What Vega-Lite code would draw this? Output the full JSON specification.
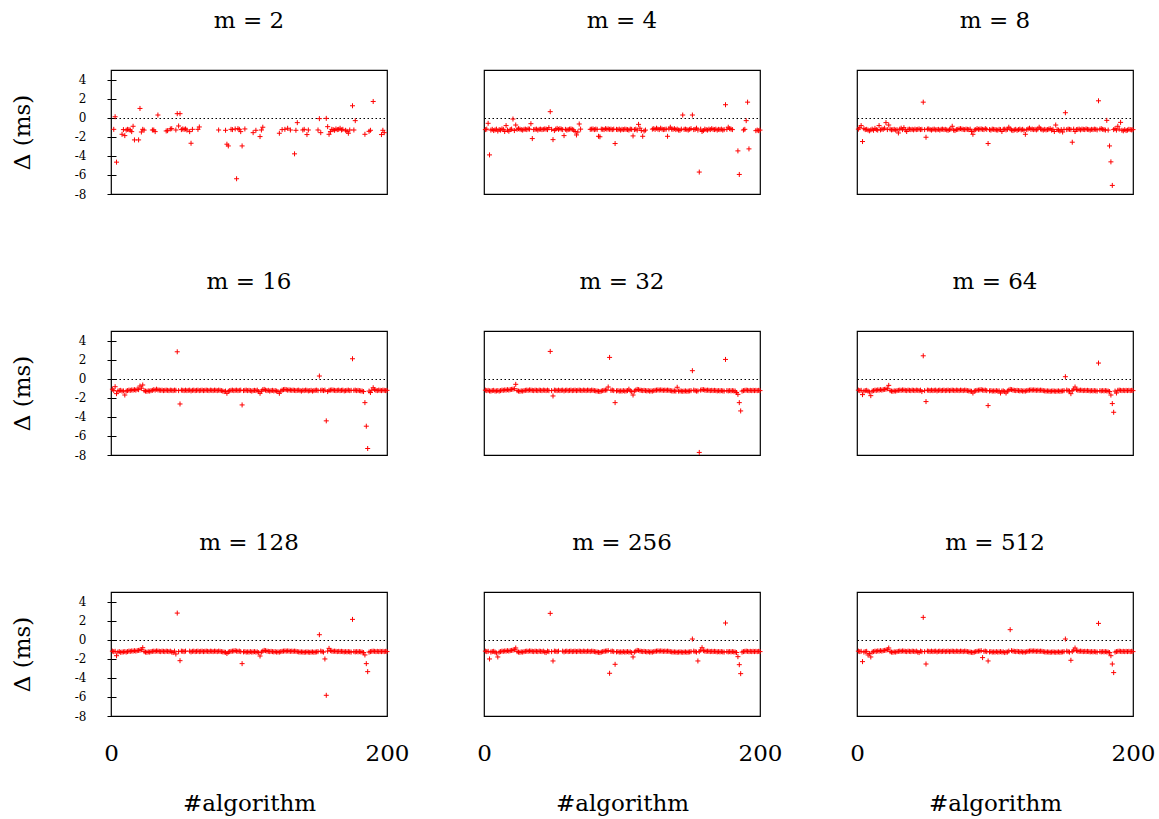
{
"$schema": "https://vega.github.io/schema/vega-lite/v6.json",
"background": "white",
"padding": {"left": 11, "top": 9, "right": 5, "bottom": 5},
"datasets": {"panels": [{"m":2,"t":"m = 2"},{"m":4,"t":"m = 4"},{"m":8,"t":"m = 8"},{"m":16,"t":"m = 16"},{"m":32,"t":"m = 32"},{"m":64,"t":"m = 64"},{"m":128,"t":"m = 128"},{"m":256,"t":"m = 256"},{"m":512,"t":"m = 512"}],
"pts": [
{"m":2,"x":2,"y":-1.22},{"m":2,"x":3,"y":0.1},{"m":2,"x":4,"y":-4.66},{"m":2,"x":8,"y":-1.74},{"m":2,"x":9,"y":-1.25},{"m":2,"x":10,"y":-1.88},{"m":2,"x":11,"y":-1.3},{"m":2,"x":12,"y":-1.22},{"m":2,"x":13,"y":-1.25},{"m":2,"x":14,"y":-1.3},{"m":2,"x":15,"y":-1.46},{"m":2,"x":16,"y":-0.9},{"m":2,"x":17,"y":-2.33},{"m":2,"x":20,"y":-2.33},{"m":2,"x":21,"y":0.97},{"m":2,"x":22,"y":-1.5},{"m":2,"x":23,"y":-1.22},{"m":2,"x":24,"y":-1.3},{"m":2,"x":30,"y":-1.29},{"m":2,"x":31,"y":-1.29},{"m":2,"x":32,"y":-1.46},{"m":2,"x":34,"y":0.28},{"m":2,"x":40,"y":-1.39},{"m":2,"x":41,"y":-1.36},{"m":2,"x":43,"y":-1.18},{"m":2,"x":44,"y":-1.15},{"m":2,"x":47,"y":-1.29},{"m":2,"x":48,"y":0.42},{"m":2,"x":49,"y":-0.87},{"m":2,"x":50,"y":0.42},{"m":2,"x":51,"y":-1.25},{"m":2,"x":52,"y":-1.18},{"m":2,"x":53,"y":-1.22},{"m":2,"x":54,"y":-1.18},{"m":2,"x":55,"y":-1.29},{"m":2,"x":57,"y":-1.46},{"m":2,"x":58,"y":-2.68},{"m":2,"x":59,"y":-1.22},{"m":2,"x":63,"y":-1.22},{"m":2,"x":64,"y":-0.97},{"m":2,"x":78,"y":-1.29},{"m":2,"x":83,"y":-1.32},{"m":2,"x":84,"y":-2.78},{"m":2,"x":85,"y":-2.96},{"m":2,"x":87,"y":-1.22},{"m":2,"x":88,"y":-1.25},{"m":2,"x":90,"y":-1.18},{"m":2,"x":91,"y":-6.4},{"m":2,"x":92,"y":-1.15},{"m":2,"x":93,"y":-1.22},{"m":2,"x":94,"y":-1.46},{"m":2,"x":95,"y":-2.96},{"m":2,"x":97,"y":-1.18},{"m":2,"x":103,"y":-1.57},{"m":2,"x":105,"y":-1.32},{"m":2,"x":108,"y":-1.98},{"m":2,"x":109,"y":-1.29},{"m":2,"x":110,"y":-1.0},{"m":2,"x":122,"y":-1.63},{"m":2,"x":124,"y":-1.25},{"m":2,"x":126,"y":-1.22},{"m":2,"x":128,"y":-1.11},{"m":2,"x":130,"y":-1.29},{"m":2,"x":133,"y":-3.79},{"m":2,"x":134,"y":-1.32},{"m":2,"x":135,"y":-0.52},{"m":2,"x":139,"y":-1.29},{"m":2,"x":140,"y":-1.22},{"m":2,"x":142,"y":-1.77},{"m":2,"x":143,"y":-1.29},{"m":2,"x":150,"y":-1.29},{"m":2,"x":151,"y":-0.1},{"m":2,"x":152,"y":-1.57},{"m":2,"x":156,"y":-0.07},{"m":2,"x":157,"y":-0.94},{"m":2,"x":158,"y":-1.74},{"m":2,"x":159,"y":-1.46},{"m":2,"x":160,"y":-1.22},{"m":2,"x":161,"y":-1.25},{"m":2,"x":162,"y":-1.32},{"m":2,"x":163,"y":-1.18},{"m":2,"x":164,"y":-1.25},{"m":2,"x":165,"y":-1.22},{"m":2,"x":166,"y":-1.11},{"m":2,"x":167,"y":-1.29},{"m":2,"x":168,"y":-1.22},{"m":2,"x":170,"y":-1.32},{"m":2,"x":171,"y":-1.43},{"m":2,"x":172,"y":-1.63},{"m":2,"x":173,"y":-1.29},{"m":2,"x":175,"y":1.25},{"m":2,"x":176,"y":-1.29},{"m":2,"x":177,"y":-0.31},{"m":2,"x":184,"y":-1.74},{"m":2,"x":187,"y":-1.43},{"m":2,"x":188,"y":-1.32},{"m":2,"x":190,"y":1.7},{"m":2,"x":196,"y":-1.77},{"m":2,"x":197,"y":-1.32},{"m":2,"x":198,"y":-1.57},
{"m":4,"x":1,"y":-1.25},{"m":4,"x":2,"y":-1.2},{"m":4,"x":3,"y":-0.59},{"m":4,"x":4,"y":-3.9},{"m":4,"x":5,"y":-1.3},{"m":4,"x":6,"y":-1.22},{"m":4,"x":7,"y":-1.35},{"m":4,"x":8,"y":-1.28},{"m":4,"x":9,"y":-1.2},{"m":4,"x":10,"y":-1.4},{"m":4,"x":11,"y":-1.25},{"m":4,"x":12,"y":-1.3},{"m":4,"x":13,"y":-1.18},{"m":4,"x":14,"y":-1.22},{"m":4,"x":15,"y":-1.45},{"m":4,"x":16,"y":-0.83},{"m":4,"x":17,"y":-1.3},{"m":4,"x":18,"y":-1.42},{"m":4,"x":19,"y":-1.25},{"m":4,"x":20,"y":-1.2},{"m":4,"x":21,"y":-0.14},{"m":4,"x":22,"y":-1.35},{"m":4,"x":23,"y":-0.77},{"m":4,"x":24,"y":-1.22},{"m":4,"x":25,"y":-1.15},{"m":4,"x":26,"y":-1.2},{"m":4,"x":27,"y":-1.25},{"m":4,"x":28,"y":-1.3},{"m":4,"x":29,"y":-1.22},{"m":4,"x":30,"y":-1.2},{"m":4,"x":31,"y":-1.25},{"m":4,"x":32,"y":-1.18},{"m":4,"x":33,"y":-1.2},{"m":4,"x":34,"y":-0.63},{"m":4,"x":35,"y":-2.19},{"m":4,"x":36,"y":-1.25},{"m":4,"x":37,"y":-1.22},{"m":4,"x":38,"y":-1.2},{"m":4,"x":39,"y":-1.3},{"m":4,"x":40,"y":-1.22},{"m":4,"x":41,"y":-1.2},{"m":4,"x":42,"y":-1.25},{"m":4,"x":43,"y":-1.22},{"m":4,"x":44,"y":-1.18},{"m":4,"x":45,"y":-1.2},{"m":4,"x":46,"y":-1.25},{"m":4,"x":47,"y":-1.05},{"m":4,"x":48,"y":0.63},{"m":4,"x":49,"y":-1.22},{"m":4,"x":50,"y":-2.3},{"m":4,"x":51,"y":-1.35},{"m":4,"x":52,"y":-1.2},{"m":4,"x":53,"y":-1.12},{"m":4,"x":54,"y":-1.22},{"m":4,"x":55,"y":-1.15},{"m":4,"x":56,"y":-1.2},{"m":4,"x":57,"y":-1.25},{"m":4,"x":58,"y":-1.88},{"m":4,"x":59,"y":-1.22},{"m":4,"x":60,"y":-1.3},{"m":4,"x":61,"y":-1.25},{"m":4,"x":62,"y":-1.2},{"m":4,"x":63,"y":-1.18},{"m":4,"x":64,"y":-1.22},{"m":4,"x":65,"y":-1.3},{"m":4,"x":66,"y":-1.45},{"m":4,"x":67,"y":-1.81},{"m":4,"x":68,"y":-1.5},{"m":4,"x":69,"y":-0.66},{"m":4,"x":70,"y":-1.2},{"m":4,"x":77,"y":-1.22},{"m":4,"x":78,"y":-1.2},{"m":4,"x":79,"y":-1.18},{"m":4,"x":80,"y":-1.25},{"m":4,"x":81,"y":-1.2},{"m":4,"x":82,"y":-1.22},{"m":4,"x":83,"y":-1.95},{"m":4,"x":84,"y":-2.0},{"m":4,"x":85,"y":-1.2},{"m":4,"x":86,"y":-1.22},{"m":4,"x":87,"y":-1.25},{"m":4,"x":88,"y":-1.15},{"m":4,"x":89,"y":-1.2},{"m":4,"x":90,"y":-1.18},{"m":4,"x":91,"y":-1.22},{"m":4,"x":92,"y":-1.2},{"m":4,"x":93,"y":-1.25},{"m":4,"x":94,"y":-1.2},{"m":4,"x":95,"y":-2.71},{"m":4,"x":96,"y":-1.22},{"m":4,"x":97,"y":-1.25},{"m":4,"x":98,"y":-1.2},{"m":4,"x":99,"y":-1.3},{"m":4,"x":100,"y":-1.22},{"m":4,"x":101,"y":-1.25},{"m":4,"x":102,"y":-1.2},{"m":4,"x":103,"y":-1.22},{"m":4,"x":104,"y":-1.25},{"m":4,"x":105,"y":-1.3},{"m":4,"x":106,"y":-1.2},{"m":4,"x":107,"y":-1.22},{"m":4,"x":108,"y":-1.91},{"m":4,"x":109,"y":-1.25},{"m":4,"x":110,"y":-1.2},{"m":4,"x":111,"y":-1.3},{"m":4,"x":112,"y":-0.7},{"m":4,"x":113,"y":-1.1},{"m":4,"x":114,"y":-1.35},{"m":4,"x":115,"y":-1.95},{"m":4,"x":116,"y":-1.4},{"m":4,"x":117,"y":-1.3},{"m":4,"x":122,"y":-1.2},{"m":4,"x":123,"y":-1.15},{"m":4,"x":124,"y":-1.22},{"m":4,"x":125,"y":-1.1},{"m":4,"x":126,"y":-1.2},{"m":4,"x":127,"y":-1.25},{"m":4,"x":128,"y":-1.1},{"m":4,"x":129,"y":-1.2},{"m":4,"x":130,"y":-1.25},{"m":4,"x":131,"y":-1.22},{"m":4,"x":132,"y":-1.2},{"m":4,"x":133,"y":-1.95},{"m":4,"x":134,"y":-1.18},{"m":4,"x":135,"y":-1.0},{"m":4,"x":136,"y":-1.2},{"m":4,"x":137,"y":-1.22},{"m":4,"x":138,"y":-1.15},{"m":4,"x":139,"y":-1.25},{"m":4,"x":140,"y":-1.2},{"m":4,"x":141,"y":-1.3},{"m":4,"x":142,"y":-1.32},{"m":4,"x":143,"y":-1.2},{"m":4,"x":144,"y":0.28},{"m":4,"x":145,"y":-1.22},{"m":4,"x":146,"y":-1.2},{"m":4,"x":147,"y":-1.25},{"m":4,"x":148,"y":-1.3},{"m":4,"x":149,"y":-1.22},{"m":4,"x":150,"y":-1.15},{"m":4,"x":151,"y":0.28},{"m":4,"x":152,"y":-1.25},{"m":4,"x":153,"y":-1.22},{"m":4,"x":154,"y":-1.1},{"m":4,"x":155,"y":-1.3},{"m":4,"x":156,"y":-5.7},{"m":4,"x":157,"y":-1.2},{"m":4,"x":158,"y":-1.45},{"m":4,"x":159,"y":-1.35},{"m":4,"x":160,"y":-1.2},{"m":4,"x":161,"y":-1.25},{"m":4,"x":162,"y":-1.3},{"m":4,"x":163,"y":-1.2},{"m":4,"x":164,"y":-1.25},{"m":4,"x":165,"y":-1.15},{"m":4,"x":166,"y":-1.22},{"m":4,"x":167,"y":-1.25},{"m":4,"x":168,"y":-1.2},{"m":4,"x":169,"y":-1.3},{"m":4,"x":170,"y":-1.22},{"m":4,"x":171,"y":-1.25},{"m":4,"x":172,"y":-1.2},{"m":4,"x":173,"y":-1.3},{"m":4,"x":174,"y":-1.25},{"m":4,"x":175,"y":1.36},{"m":4,"x":176,"y":-1.22},{"m":4,"x":177,"y":-1.0},{"m":4,"x":178,"y":-1.15},{"m":4,"x":179,"y":-1.2},{"m":4,"x":180,"y":-1.25},{"m":4,"x":184,"y":-3.48},{"m":4,"x":185,"y":-5.95},{"m":4,"x":188,"y":-1.29},{"m":4,"x":189,"y":-1.22},{"m":4,"x":190,"y":-0.31},{"m":4,"x":191,"y":1.63},{"m":4,"x":192,"y":-3.27},{"m":4,"x":197,"y":-1.36},{"m":4,"x":198,"y":-1.3},{"m":4,"x":199,"y":-1.36},{"m":4,"x":200,"y":-1.3},
{"m":8,"x":1,"y":-1.2},{"m":8,"x":2,"y":-1.05},{"m":8,"x":3,"y":-0.83},{"m":8,"x":4,"y":-2.5},{"m":8,"x":5,"y":-1.15},{"m":8,"x":6,"y":-1.25},{"m":8,"x":7,"y":-1.22},{"m":8,"x":8,"y":-1.3},{"m":8,"x":9,"y":-1.38},{"m":8,"x":10,"y":-1.28},{"m":8,"x":11,"y":-1.2},{"m":8,"x":12,"y":-1.32},{"m":8,"x":13,"y":-1.12},{"m":8,"x":14,"y":-1.25},{"m":8,"x":15,"y":-1.3},{"m":8,"x":16,"y":-0.83},{"m":8,"x":17,"y":-1.28},{"m":8,"x":18,"y":-1.2},{"m":8,"x":19,"y":-1.22},{"m":8,"x":20,"y":-1.1},{"m":8,"x":21,"y":-0.52},{"m":8,"x":22,"y":-1.25},{"m":8,"x":23,"y":-0.77},{"m":8,"x":24,"y":-1.2},{"m":8,"x":25,"y":-1.28},{"m":8,"x":26,"y":-1.25},{"m":8,"x":27,"y":-1.22},{"m":8,"x":28,"y":-1.3},{"m":8,"x":29,"y":-1.26},{"m":8,"x":30,"y":-1.6},{"m":8,"x":31,"y":-1.2},{"m":8,"x":32,"y":-1.1},{"m":8,"x":33,"y":-1.25},{"m":8,"x":34,"y":-1.05},{"m":8,"x":35,"y":-1.28},{"m":8,"x":36,"y":-1.45},{"m":8,"x":37,"y":-1.22},{"m":8,"x":38,"y":-1.2},{"m":8,"x":39,"y":-1.25},{"m":8,"x":40,"y":-1.22},{"m":8,"x":41,"y":-1.28},{"m":8,"x":42,"y":-1.2},{"m":8,"x":43,"y":-1.25},{"m":8,"x":44,"y":-1.22},{"m":8,"x":45,"y":-1.18},{"m":8,"x":46,"y":-1.25},{"m":8,"x":47,"y":-1.22},{"m":8,"x":48,"y":1.63},{"m":8,"x":49,"y":-1.25},{"m":8,"x":50,"y":-2.05},{"m":8,"x":51,"y":-1.2},{"m":8,"x":52,"y":-1.18},{"m":8,"x":53,"y":-1.25},{"m":8,"x":54,"y":-1.3},{"m":8,"x":55,"y":-1.22},{"m":8,"x":56,"y":-1.2},{"m":8,"x":57,"y":-1.28},{"m":8,"x":58,"y":-1.25},{"m":8,"x":59,"y":-1.22},{"m":8,"x":60,"y":-1.3},{"m":8,"x":61,"y":-1.22},{"m":8,"x":62,"y":-1.2},{"m":8,"x":63,"y":-1.25},{"m":8,"x":64,"y":-1.22},{"m":8,"x":65,"y":-1.28},{"m":8,"x":66,"y":-1.32},{"m":8,"x":67,"y":-1.25},{"m":8,"x":68,"y":-1.2},{"m":8,"x":69,"y":-0.9},{"m":8,"x":70,"y":-1.3},{"m":8,"x":71,"y":-1.35},{"m":8,"x":72,"y":-1.25},{"m":8,"x":73,"y":-1.22},{"m":8,"x":74,"y":-1.18},{"m":8,"x":75,"y":-1.15},{"m":8,"x":76,"y":-1.2},{"m":8,"x":77,"y":-1.22},{"m":8,"x":78,"y":-1.25},{"m":8,"x":79,"y":-1.2},{"m":8,"x":80,"y":-1.22},{"m":8,"x":81,"y":-1.25},{"m":8,"x":82,"y":-1.2},{"m":8,"x":83,"y":-1.45},{"m":8,"x":84,"y":-1.74},{"m":8,"x":85,"y":-1.3},{"m":8,"x":86,"y":-1.25},{"m":8,"x":87,"y":-1.15},{"m":8,"x":88,"y":-1.22},{"m":8,"x":89,"y":-1.2},{"m":8,"x":90,"y":-1.18},{"m":8,"x":91,"y":-1.22},{"m":8,"x":92,"y":-1.25},{"m":8,"x":93,"y":-1.15},{"m":8,"x":94,"y":-1.22},{"m":8,"x":95,"y":-2.71},{"m":8,"x":96,"y":-1.25},{"m":8,"x":97,"y":-1.3},{"m":8,"x":98,"y":-1.2},{"m":8,"x":99,"y":-1.22},{"m":8,"x":100,"y":-1.25},{"m":8,"x":101,"y":-1.28},{"m":8,"x":102,"y":-1.3},{"m":8,"x":103,"y":-1.22},{"m":8,"x":104,"y":-1.25},{"m":8,"x":105,"y":-1.45},{"m":8,"x":106,"y":-1.22},{"m":8,"x":107,"y":-1.2},{"m":8,"x":108,"y":-1.28},{"m":8,"x":109,"y":-1.22},{"m":8,"x":110,"y":-1.0},{"m":8,"x":111,"y":-1.18},{"m":8,"x":112,"y":-1.3},{"m":8,"x":113,"y":-1.35},{"m":8,"x":114,"y":-1.28},{"m":8,"x":115,"y":-1.22},{"m":8,"x":116,"y":-1.32},{"m":8,"x":117,"y":-1.25},{"m":8,"x":118,"y":-1.2},{"m":8,"x":119,"y":-1.28},{"m":8,"x":120,"y":-1.22},{"m":8,"x":121,"y":-1.32},{"m":8,"x":122,"y":-1.74},{"m":8,"x":123,"y":-1.25},{"m":8,"x":124,"y":-1.18},{"m":8,"x":125,"y":-1.1},{"m":8,"x":126,"y":-1.22},{"m":8,"x":127,"y":-1.2},{"m":8,"x":128,"y":-1.25},{"m":8,"x":129,"y":-1.22},{"m":8,"x":130,"y":-1.28},{"m":8,"x":131,"y":-1.2},{"m":8,"x":132,"y":-1.0},{"m":8,"x":133,"y":-1.18},{"m":8,"x":134,"y":-1.25},{"m":8,"x":135,"y":-1.3},{"m":8,"x":136,"y":-1.22},{"m":8,"x":137,"y":-1.28},{"m":8,"x":138,"y":-1.25},{"m":8,"x":139,"y":-1.2},{"m":8,"x":140,"y":-1.15},{"m":8,"x":141,"y":-1.3},{"m":8,"x":142,"y":-1.22},{"m":8,"x":143,"y":-1.45},{"m":8,"x":144,"y":-0.77},{"m":8,"x":145,"y":-1.25},{"m":8,"x":146,"y":-1.3},{"m":8,"x":147,"y":-1.4},{"m":8,"x":148,"y":-1.25},{"m":8,"x":149,"y":-1.5},{"m":8,"x":150,"y":-1.22},{"m":8,"x":151,"y":0.52},{"m":8,"x":152,"y":-1.25},{"m":8,"x":153,"y":-1.2},{"m":8,"x":154,"y":-1.22},{"m":8,"x":155,"y":-1.25},{"m":8,"x":156,"y":-2.57},{"m":8,"x":157,"y":-1.2},{"m":8,"x":158,"y":-1.45},{"m":8,"x":159,"y":-1.25},{"m":8,"x":160,"y":-1.22},{"m":8,"x":161,"y":-1.2},{"m":8,"x":162,"y":-1.28},{"m":8,"x":163,"y":-1.2},{"m":8,"x":164,"y":-1.22},{"m":8,"x":165,"y":-1.25},{"m":8,"x":166,"y":-1.18},{"m":8,"x":167,"y":-1.22},{"m":8,"x":168,"y":-1.25},{"m":8,"x":169,"y":-1.3},{"m":8,"x":170,"y":-1.22},{"m":8,"x":171,"y":-1.25},{"m":8,"x":172,"y":-1.2},{"m":8,"x":173,"y":-1.22},{"m":8,"x":174,"y":-1.28},{"m":8,"x":175,"y":1.77},{"m":8,"x":176,"y":-1.2},{"m":8,"x":177,"y":-1.15},{"m":8,"x":178,"y":-1.22},{"m":8,"x":179,"y":-1.25},{"m":8,"x":180,"y":-1.3},{"m":8,"x":181,"y":-0.28},{"m":8,"x":182,"y":-1.3},{"m":8,"x":183,"y":-2.96},{"m":8,"x":184,"y":-4.63},{"m":8,"x":185,"y":-7.1},{"m":8,"x":186,"y":-1.25},{"m":8,"x":187,"y":-1.15},{"m":8,"x":188,"y":-1.3},{"m":8,"x":189,"y":-0.9},{"m":8,"x":190,"y":-1.2},{"m":8,"x":191,"y":-0.49},{"m":8,"x":192,"y":-1.32},{"m":8,"x":193,"y":-1.38},{"m":8,"x":194,"y":-1.25},{"m":8,"x":195,"y":-1.35},{"m":8,"x":196,"y":-1.3},{"m":8,"x":197,"y":-1.22},{"m":8,"x":198,"y":-1.25},{"m":8,"x":199,"y":-1.28},{"m":8,"x":200,"y":-1.25},
{"m":16,"x":1,"y":-1.1},{"m":16,"x":2,"y":-1.25},{"m":16,"x":3,"y":-0.84},{"m":16,"x":4,"y":-1.57},{"m":16,"x":5,"y":-1.3},{"m":16,"x":6,"y":-1.25},{"m":16,"x":7,"y":-1.22},{"m":16,"x":8,"y":-1.3},{"m":16,"x":9,"y":-1.28},{"m":16,"x":10,"y":-1.71},{"m":16,"x":11,"y":-1.3},{"m":16,"x":12,"y":-1.25},{"m":16,"x":13,"y":-1.2},{"m":16,"x":14,"y":-1.22},{"m":16,"x":15,"y":-1.18},{"m":16,"x":16,"y":-1.2},{"m":16,"x":17,"y":-1.15},{"m":16,"x":18,"y":-1.2},{"m":16,"x":19,"y":-1.1},{"m":16,"x":20,"y":-1.15},{"m":16,"x":21,"y":-0.77},{"m":16,"x":22,"y":-1.0},{"m":16,"x":23,"y":-0.66},{"m":16,"x":24,"y":-1.25},{"m":16,"x":25,"y":-1.3},{"m":16,"x":26,"y":-1.32},{"m":16,"x":27,"y":-1.28},{"m":16,"x":28,"y":-1.3},{"m":16,"x":29,"y":-1.25},{"m":16,"x":30,"y":-1.22},{"m":16,"x":31,"y":-1.15},{"m":16,"x":32,"y":-1.2},{"m":16,"x":33,"y":-1.1},{"m":16,"x":34,"y":-1.18},{"m":16,"x":35,"y":-1.2},{"m":16,"x":36,"y":-1.22},{"m":16,"x":37,"y":-1.2},{"m":16,"x":38,"y":-1.25},{"m":16,"x":39,"y":-1.22},{"m":16,"x":40,"y":-1.2},{"m":16,"x":41,"y":-1.22},{"m":16,"x":42,"y":-1.25},{"m":16,"x":43,"y":-1.2},{"m":16,"x":44,"y":-1.22},{"m":16,"x":45,"y":-1.25},{"m":16,"x":46,"y":-1.2},{"m":16,"x":47,"y":-1.22},{"m":16,"x":48,"y":2.82},{"m":16,"x":49,"y":-1.25},{"m":16,"x":50,"y":-2.65},{"m":16,"x":51,"y":-1.2},{"m":16,"x":52,"y":-1.22},{"m":16,"x":53,"y":-1.25},{"m":16,"x":54,"y":-1.2},{"m":16,"x":55,"y":-1.25},{"m":16,"x":56,"y":-1.22},{"m":16,"x":57,"y":-1.2},{"m":16,"x":58,"y":-1.28},{"m":16,"x":59,"y":-1.22},{"m":16,"x":60,"y":-1.2},{"m":16,"x":61,"y":-1.25},{"m":16,"x":62,"y":-1.22},{"m":16,"x":63,"y":-1.2},{"m":16,"x":64,"y":-1.25},{"m":16,"x":65,"y":-1.22},{"m":16,"x":66,"y":-1.2},{"m":16,"x":67,"y":-1.25},{"m":16,"x":68,"y":-1.22},{"m":16,"x":69,"y":-1.2},{"m":16,"x":70,"y":-1.22},{"m":16,"x":71,"y":-1.25},{"m":16,"x":72,"y":-1.2},{"m":16,"x":73,"y":-1.22},{"m":16,"x":74,"y":-1.25},{"m":16,"x":75,"y":-1.2},{"m":16,"x":76,"y":-1.22},{"m":16,"x":77,"y":-1.25},{"m":16,"x":78,"y":-1.2},{"m":16,"x":79,"y":-1.22},{"m":16,"x":80,"y":-1.25},{"m":16,"x":81,"y":-1.3},{"m":16,"x":82,"y":-1.35},{"m":16,"x":83,"y":-1.3},{"m":16,"x":84,"y":-1.53},{"m":16,"x":85,"y":-1.32},{"m":16,"x":86,"y":-1.25},{"m":16,"x":87,"y":-1.22},{"m":16,"x":88,"y":-1.2},{"m":16,"x":89,"y":-1.25},{"m":16,"x":90,"y":-1.22},{"m":16,"x":91,"y":-1.2},{"m":16,"x":92,"y":-1.25},{"m":16,"x":93,"y":-1.22},{"m":16,"x":94,"y":-1.2},{"m":16,"x":95,"y":-2.75},{"m":16,"x":96,"y":-1.25},{"m":16,"x":97,"y":-1.22},{"m":16,"x":98,"y":-1.2},{"m":16,"x":99,"y":-1.25},{"m":16,"x":100,"y":-1.22},{"m":16,"x":101,"y":-1.25},{"m":16,"x":102,"y":-1.3},{"m":16,"x":103,"y":-1.25},{"m":16,"x":104,"y":-1.22},{"m":16,"x":105,"y":-1.25},{"m":16,"x":106,"y":-1.2},{"m":16,"x":107,"y":-1.35},{"m":16,"x":108,"y":-1.53},{"m":16,"x":109,"y":-1.3},{"m":16,"x":110,"y":-1.15},{"m":16,"x":111,"y":-1.12},{"m":16,"x":112,"y":-1.2},{"m":16,"x":113,"y":-1.25},{"m":16,"x":114,"y":-1.22},{"m":16,"x":115,"y":-1.3},{"m":16,"x":116,"y":-1.25},{"m":16,"x":117,"y":-1.22},{"m":16,"x":118,"y":-1.28},{"m":16,"x":119,"y":-1.25},{"m":16,"x":120,"y":-1.3},{"m":16,"x":121,"y":-1.35},{"m":16,"x":122,"y":-1.53},{"m":16,"x":123,"y":-1.3},{"m":16,"x":124,"y":-1.2},{"m":16,"x":125,"y":-1.15},{"m":16,"x":126,"y":-1.12},{"m":16,"x":127,"y":-1.15},{"m":16,"x":128,"y":-1.2},{"m":16,"x":129,"y":-1.18},{"m":16,"x":130,"y":-1.2},{"m":16,"x":131,"y":-1.22},{"m":16,"x":132,"y":-1.2},{"m":16,"x":133,"y":-1.22},{"m":16,"x":134,"y":-1.25},{"m":16,"x":135,"y":-1.22},{"m":16,"x":136,"y":-1.2},{"m":16,"x":137,"y":-1.25},{"m":16,"x":138,"y":-1.3},{"m":16,"x":139,"y":-1.22},{"m":16,"x":140,"y":-1.25},{"m":16,"x":141,"y":-1.2},{"m":16,"x":142,"y":-1.22},{"m":16,"x":143,"y":-1.28},{"m":16,"x":144,"y":-1.25},{"m":16,"x":145,"y":-1.22},{"m":16,"x":146,"y":-1.3},{"m":16,"x":147,"y":-1.25},{"m":16,"x":148,"y":-1.22},{"m":16,"x":149,"y":-1.2},{"m":16,"x":150,"y":-1.25},{"m":16,"x":151,"y":0.28},{"m":16,"x":152,"y":-1.22},{"m":16,"x":153,"y":-1.2},{"m":16,"x":154,"y":-1.25},{"m":16,"x":155,"y":-1.2},{"m":16,"x":156,"y":-4.42},{"m":16,"x":157,"y":-1.35},{"m":16,"x":158,"y":-1.22},{"m":16,"x":159,"y":-1.2},{"m":16,"x":160,"y":-1.18},{"m":16,"x":161,"y":-1.2},{"m":16,"x":162,"y":-1.22},{"m":16,"x":163,"y":-1.25},{"m":16,"x":164,"y":-1.22},{"m":16,"x":165,"y":-1.2},{"m":16,"x":166,"y":-1.25},{"m":16,"x":167,"y":-1.22},{"m":16,"x":168,"y":-1.2},{"m":16,"x":169,"y":-1.28},{"m":16,"x":170,"y":-1.25},{"m":16,"x":171,"y":-1.22},{"m":16,"x":172,"y":-1.2},{"m":16,"x":173,"y":-1.25},{"m":16,"x":174,"y":-1.22},{"m":16,"x":175,"y":2.09},{"m":16,"x":176,"y":-1.22},{"m":16,"x":177,"y":-1.2},{"m":16,"x":178,"y":-1.25},{"m":16,"x":179,"y":-1.22},{"m":16,"x":180,"y":-1.25},{"m":16,"x":181,"y":-1.28},{"m":16,"x":182,"y":-1.3},{"m":16,"x":183,"y":-1.35},{"m":16,"x":184,"y":-2.51},{"m":16,"x":185,"y":-4.98},{"m":16,"x":186,"y":-7.32},{"m":16,"x":187,"y":-1.3},{"m":16,"x":188,"y":-1.45},{"m":16,"x":189,"y":-1.2},{"m":16,"x":190,"y":-0.95},{"m":16,"x":191,"y":-1.15},{"m":16,"x":192,"y":-1.22},{"m":16,"x":193,"y":-1.25},{"m":16,"x":194,"y":-1.2},{"m":16,"x":195,"y":-1.22},{"m":16,"x":196,"y":-1.25},{"m":16,"x":197,"y":-1.2},{"m":16,"x":198,"y":-1.22},{"m":16,"x":199,"y":-1.25},{"m":16,"x":200,"y":-1.22},
{"m":32,"x":1,"y":-1.2},{"m":32,"x":2,"y":-1.25},{"m":32,"x":3,"y":-1.22},{"m":32,"x":4,"y":-1.28},{"m":32,"x":5,"y":-1.3},{"m":32,"x":6,"y":-1.25},{"m":32,"x":7,"y":-1.22},{"m":32,"x":8,"y":-1.3},{"m":32,"x":9,"y":-1.28},{"m":32,"x":10,"y":-1.25},{"m":32,"x":11,"y":-1.3},{"m":32,"x":12,"y":-1.25},{"m":32,"x":13,"y":-1.2},{"m":32,"x":14,"y":-1.22},{"m":32,"x":15,"y":-1.18},{"m":32,"x":16,"y":-1.2},{"m":32,"x":17,"y":-1.15},{"m":32,"x":18,"y":-1.2},{"m":32,"x":19,"y":-1.15},{"m":32,"x":20,"y":-1.12},{"m":32,"x":21,"y":-1.1},{"m":32,"x":22,"y":-1.05},{"m":32,"x":23,"y":-0.59},{"m":32,"x":24,"y":-1.25},{"m":32,"x":25,"y":-1.3},{"m":32,"x":26,"y":-1.32},{"m":32,"x":27,"y":-1.28},{"m":32,"x":28,"y":-1.3},{"m":32,"x":29,"y":-1.25},{"m":32,"x":30,"y":-1.22},{"m":32,"x":31,"y":-1.2},{"m":32,"x":32,"y":-1.22},{"m":32,"x":33,"y":-1.18},{"m":32,"x":34,"y":-1.2},{"m":32,"x":35,"y":-1.22},{"m":32,"x":36,"y":-1.25},{"m":32,"x":37,"y":-1.2},{"m":32,"x":38,"y":-1.22},{"m":32,"x":39,"y":-1.25},{"m":32,"x":40,"y":-1.2},{"m":32,"x":41,"y":-1.22},{"m":32,"x":42,"y":-1.25},{"m":32,"x":43,"y":-1.2},{"m":32,"x":44,"y":-1.22},{"m":32,"x":45,"y":-1.25},{"m":32,"x":46,"y":-1.2},{"m":32,"x":47,"y":-1.25},{"m":32,"x":48,"y":2.86},{"m":32,"x":49,"y":-1.25},{"m":32,"x":50,"y":-1.81},{"m":32,"x":51,"y":-1.2},{"m":32,"x":52,"y":-1.22},{"m":32,"x":53,"y":-1.25},{"m":32,"x":54,"y":-1.2},{"m":32,"x":55,"y":-1.25},{"m":32,"x":56,"y":-1.22},{"m":32,"x":57,"y":-1.2},{"m":32,"x":58,"y":-1.28},{"m":32,"x":59,"y":-1.22},{"m":32,"x":60,"y":-1.2},{"m":32,"x":61,"y":-1.25},{"m":32,"x":62,"y":-1.22},{"m":32,"x":63,"y":-1.2},{"m":32,"x":64,"y":-1.25},{"m":32,"x":65,"y":-1.22},{"m":32,"x":66,"y":-1.2},{"m":32,"x":67,"y":-1.25},{"m":32,"x":68,"y":-1.22},{"m":32,"x":69,"y":-1.2},{"m":32,"x":70,"y":-1.22},{"m":32,"x":71,"y":-1.25},{"m":32,"x":72,"y":-1.2},{"m":32,"x":73,"y":-1.22},{"m":32,"x":74,"y":-1.25},{"m":32,"x":75,"y":-1.2},{"m":32,"x":76,"y":-1.22},{"m":32,"x":77,"y":-1.25},{"m":32,"x":78,"y":-1.2},{"m":32,"x":79,"y":-1.22},{"m":32,"x":80,"y":-1.25},{"m":32,"x":81,"y":-1.28},{"m":32,"x":82,"y":-1.3},{"m":32,"x":83,"y":-1.32},{"m":32,"x":84,"y":-1.35},{"m":32,"x":85,"y":-1.3},{"m":32,"x":86,"y":-1.25},{"m":32,"x":87,"y":-1.22},{"m":32,"x":88,"y":-1.2},{"m":32,"x":89,"y":-1.18},{"m":32,"x":90,"y":-0.87},{"m":32,"x":91,"y":2.23},{"m":32,"x":92,"y":-1.22},{"m":32,"x":93,"y":-1.2},{"m":32,"x":94,"y":-1.25},{"m":32,"x":95,"y":-2.51},{"m":32,"x":96,"y":-1.28},{"m":32,"x":97,"y":-1.25},{"m":32,"x":98,"y":-1.3},{"m":32,"x":99,"y":-1.28},{"m":32,"x":100,"y":-1.3},{"m":32,"x":101,"y":-1.25},{"m":32,"x":102,"y":-1.3},{"m":32,"x":103,"y":-1.28},{"m":32,"x":104,"y":-1.25},{"m":32,"x":105,"y":-1.1},{"m":32,"x":106,"y":-1.28},{"m":32,"x":107,"y":-1.35},{"m":32,"x":108,"y":-1.71},{"m":32,"x":109,"y":-1.3},{"m":32,"x":110,"y":-1.2},{"m":32,"x":111,"y":-1.12},{"m":32,"x":112,"y":-1.15},{"m":32,"x":113,"y":-1.2},{"m":32,"x":114,"y":-1.22},{"m":32,"x":115,"y":-1.25},{"m":32,"x":116,"y":-1.22},{"m":32,"x":117,"y":-1.25},{"m":32,"x":118,"y":-1.28},{"m":32,"x":119,"y":-1.25},{"m":32,"x":120,"y":-1.3},{"m":32,"x":121,"y":-1.28},{"m":32,"x":122,"y":-1.3},{"m":32,"x":123,"y":-1.25},{"m":32,"x":124,"y":-1.22},{"m":32,"x":125,"y":-1.2},{"m":32,"x":126,"y":-1.18},{"m":32,"x":127,"y":-1.2},{"m":32,"x":128,"y":-1.18},{"m":32,"x":129,"y":-1.2},{"m":32,"x":130,"y":-1.22},{"m":32,"x":131,"y":-1.2},{"m":32,"x":132,"y":-1.22},{"m":32,"x":133,"y":-1.2},{"m":32,"x":134,"y":-1.22},{"m":32,"x":135,"y":-1.25},{"m":32,"x":136,"y":-1.28},{"m":32,"x":137,"y":-1.3},{"m":32,"x":138,"y":-1.28},{"m":32,"x":139,"y":-1.3},{"m":32,"x":140,"y":-0.9},{"m":32,"x":141,"y":-1.3},{"m":32,"x":142,"y":-1.28},{"m":32,"x":143,"y":-1.3},{"m":32,"x":144,"y":-1.32},{"m":32,"x":145,"y":-1.3},{"m":32,"x":146,"y":-1.28},{"m":32,"x":147,"y":-1.32},{"m":32,"x":148,"y":-1.3},{"m":32,"x":149,"y":-1.28},{"m":32,"x":150,"y":-1.25},{"m":32,"x":151,"y":0.84},{"m":32,"x":152,"y":-1.2},{"m":32,"x":153,"y":-1.25},{"m":32,"x":154,"y":-1.3},{"m":32,"x":155,"y":-1.28},{"m":32,"x":156,"y":-7.73},{"m":32,"x":157,"y":-1.2},{"m":32,"x":158,"y":-1.15},{"m":32,"x":159,"y":-1.15},{"m":32,"x":160,"y":-1.2},{"m":32,"x":161,"y":-1.22},{"m":32,"x":162,"y":-1.2},{"m":32,"x":163,"y":-1.22},{"m":32,"x":164,"y":-1.25},{"m":32,"x":165,"y":-1.22},{"m":32,"x":166,"y":-1.25},{"m":32,"x":167,"y":-1.22},{"m":32,"x":168,"y":-1.25},{"m":32,"x":169,"y":-1.28},{"m":32,"x":170,"y":-1.25},{"m":32,"x":171,"y":-1.28},{"m":32,"x":172,"y":-1.25},{"m":32,"x":173,"y":-1.28},{"m":32,"x":174,"y":-1.3},{"m":32,"x":175,"y":2.02},{"m":32,"x":176,"y":-1.25},{"m":32,"x":177,"y":-1.28},{"m":32,"x":178,"y":-1.25},{"m":32,"x":179,"y":-1.28},{"m":32,"x":180,"y":-1.25},{"m":32,"x":181,"y":-1.28},{"m":32,"x":182,"y":-1.3},{"m":32,"x":183,"y":-1.45},{"m":32,"x":184,"y":-1.64},{"m":32,"x":185,"y":-2.51},{"m":32,"x":186,"y":-3.38},{"m":32,"x":187,"y":-1.3},{"m":32,"x":188,"y":-1.25},{"m":32,"x":189,"y":-1.22},{"m":32,"x":190,"y":-1.2},{"m":32,"x":191,"y":-1.22},{"m":32,"x":192,"y":-1.25},{"m":32,"x":193,"y":-1.22},{"m":32,"x":194,"y":-1.25},{"m":32,"x":195,"y":-1.22},{"m":32,"x":196,"y":-1.25},{"m":32,"x":197,"y":-1.22},{"m":32,"x":198,"y":-1.25},{"m":32,"x":199,"y":-1.22},{"m":32,"x":200,"y":-1.25},
{"m":64,"x":1,"y":-1.2},{"m":64,"x":2,"y":-1.25},{"m":64,"x":3,"y":-1.22},{"m":64,"x":4,"y":-1.67},{"m":64,"x":5,"y":-1.3},{"m":64,"x":6,"y":-1.25},{"m":64,"x":7,"y":-1.22},{"m":64,"x":8,"y":-1.3},{"m":64,"x":9,"y":-1.4},{"m":64,"x":10,"y":-1.78},{"m":64,"x":11,"y":-1.3},{"m":64,"x":12,"y":-1.25},{"m":64,"x":13,"y":-1.2},{"m":64,"x":14,"y":-1.22},{"m":64,"x":15,"y":-1.18},{"m":64,"x":16,"y":-1.2},{"m":64,"x":17,"y":-1.15},{"m":64,"x":18,"y":-1.2},{"m":64,"x":19,"y":-1.15},{"m":64,"x":20,"y":-1.12},{"m":64,"x":21,"y":-1.1},{"m":64,"x":22,"y":-1.05},{"m":64,"x":23,"y":-0.7},{"m":64,"x":24,"y":-1.25},{"m":64,"x":25,"y":-1.3},{"m":64,"x":26,"y":-1.32},{"m":64,"x":27,"y":-1.28},{"m":64,"x":28,"y":-1.3},{"m":64,"x":29,"y":-1.25},{"m":64,"x":30,"y":-1.22},{"m":64,"x":31,"y":-1.2},{"m":64,"x":32,"y":-1.22},{"m":64,"x":33,"y":-1.18},{"m":64,"x":34,"y":-1.2},{"m":64,"x":35,"y":-1.22},{"m":64,"x":36,"y":-1.25},{"m":64,"x":37,"y":-1.2},{"m":64,"x":38,"y":-1.22},{"m":64,"x":39,"y":-1.25},{"m":64,"x":40,"y":-1.2},{"m":64,"x":41,"y":-1.22},{"m":64,"x":42,"y":-1.25},{"m":64,"x":43,"y":-1.2},{"m":64,"x":44,"y":-1.22},{"m":64,"x":45,"y":-1.25},{"m":64,"x":46,"y":-1.2},{"m":64,"x":47,"y":-1.35},{"m":64,"x":48,"y":2.4},{"m":64,"x":49,"y":-1.25},{"m":64,"x":50,"y":-2.4},{"m":64,"x":51,"y":-1.2},{"m":64,"x":52,"y":-1.22},{"m":64,"x":53,"y":-1.25},{"m":64,"x":54,"y":-1.2},{"m":64,"x":55,"y":-1.25},{"m":64,"x":56,"y":-1.22},{"m":64,"x":57,"y":-1.2},{"m":64,"x":58,"y":-1.28},{"m":64,"x":59,"y":-1.22},{"m":64,"x":60,"y":-1.2},{"m":64,"x":61,"y":-1.25},{"m":64,"x":62,"y":-1.22},{"m":64,"x":63,"y":-1.2},{"m":64,"x":64,"y":-1.25},{"m":64,"x":65,"y":-1.22},{"m":64,"x":66,"y":-1.2},{"m":64,"x":67,"y":-1.25},{"m":64,"x":68,"y":-1.22},{"m":64,"x":69,"y":-1.2},{"m":64,"x":70,"y":-1.22},{"m":64,"x":71,"y":-1.25},{"m":64,"x":72,"y":-1.2},{"m":64,"x":73,"y":-1.22},{"m":64,"x":74,"y":-1.25},{"m":64,"x":75,"y":-1.2},{"m":64,"x":76,"y":-1.22},{"m":64,"x":77,"y":-1.25},{"m":64,"x":78,"y":-1.2},{"m":64,"x":79,"y":-1.22},{"m":64,"x":80,"y":-1.25},{"m":64,"x":81,"y":-1.28},{"m":64,"x":82,"y":-1.3},{"m":64,"x":83,"y":-1.32},{"m":64,"x":84,"y":-1.5},{"m":64,"x":85,"y":-1.3},{"m":64,"x":86,"y":-1.25},{"m":64,"x":87,"y":-1.22},{"m":64,"x":88,"y":-1.2},{"m":64,"x":89,"y":-1.18},{"m":64,"x":90,"y":-1.15},{"m":64,"x":91,"y":-1.2},{"m":64,"x":92,"y":-1.22},{"m":64,"x":93,"y":-1.2},{"m":64,"x":94,"y":-1.25},{"m":64,"x":95,"y":-2.82},{"m":64,"x":96,"y":-1.28},{"m":64,"x":97,"y":-1.25},{"m":64,"x":98,"y":-1.3},{"m":64,"x":99,"y":-1.28},{"m":64,"x":100,"y":-1.3},{"m":64,"x":101,"y":-1.25},{"m":64,"x":102,"y":-1.3},{"m":64,"x":103,"y":-1.28},{"m":64,"x":104,"y":-1.5},{"m":64,"x":105,"y":-1.3},{"m":64,"x":106,"y":-1.28},{"m":64,"x":107,"y":-1.35},{"m":64,"x":108,"y":-1.5},{"m":64,"x":109,"y":-1.3},{"m":64,"x":110,"y":-1.2},{"m":64,"x":111,"y":-1.12},{"m":64,"x":112,"y":-1.15},{"m":64,"x":113,"y":-1.2},{"m":64,"x":114,"y":-1.22},{"m":64,"x":115,"y":-1.25},{"m":64,"x":116,"y":-1.22},{"m":64,"x":117,"y":-1.25},{"m":64,"x":118,"y":-1.28},{"m":64,"x":119,"y":-1.25},{"m":64,"x":120,"y":-1.3},{"m":64,"x":121,"y":-1.28},{"m":64,"x":122,"y":-1.3},{"m":64,"x":123,"y":-1.25},{"m":64,"x":124,"y":-1.22},{"m":64,"x":125,"y":-1.2},{"m":64,"x":126,"y":-1.18},{"m":64,"x":127,"y":-1.2},{"m":64,"x":128,"y":-1.18},{"m":64,"x":129,"y":-1.2},{"m":64,"x":130,"y":-1.22},{"m":64,"x":131,"y":-1.2},{"m":64,"x":132,"y":-1.22},{"m":64,"x":133,"y":-1.2},{"m":64,"x":134,"y":-1.22},{"m":64,"x":135,"y":-1.25},{"m":64,"x":136,"y":-1.28},{"m":64,"x":137,"y":-1.3},{"m":64,"x":138,"y":-1.28},{"m":64,"x":139,"y":-1.3},{"m":64,"x":140,"y":-1.32},{"m":64,"x":141,"y":-1.3},{"m":64,"x":142,"y":-1.28},{"m":64,"x":143,"y":-1.3},{"m":64,"x":144,"y":-1.32},{"m":64,"x":145,"y":-1.3},{"m":64,"x":146,"y":-1.28},{"m":64,"x":147,"y":-1.32},{"m":64,"x":148,"y":-1.3},{"m":64,"x":149,"y":-1.28},{"m":64,"x":150,"y":-1.25},{"m":64,"x":151,"y":0.21},{"m":64,"x":152,"y":-1.2},{"m":64,"x":153,"y":-1.25},{"m":64,"x":154,"y":-1.3},{"m":64,"x":155,"y":-1.57},{"m":64,"x":156,"y":-1.25},{"m":64,"x":157,"y":-1.1},{"m":64,"x":158,"y":-0.87},{"m":64,"x":159,"y":-1.15},{"m":64,"x":160,"y":-1.2},{"m":64,"x":161,"y":-1.22},{"m":64,"x":162,"y":-1.2},{"m":64,"x":163,"y":-1.22},{"m":64,"x":164,"y":-1.25},{"m":64,"x":165,"y":-1.22},{"m":64,"x":166,"y":-1.25},{"m":64,"x":167,"y":-1.22},{"m":64,"x":168,"y":-1.25},{"m":64,"x":169,"y":-1.28},{"m":64,"x":170,"y":-1.25},{"m":64,"x":171,"y":-1.28},{"m":64,"x":172,"y":-1.25},{"m":64,"x":173,"y":-1.28},{"m":64,"x":174,"y":-1.3},{"m":64,"x":175,"y":1.64},{"m":64,"x":176,"y":-1.25},{"m":64,"x":177,"y":-1.28},{"m":64,"x":178,"y":-1.25},{"m":64,"x":179,"y":-1.28},{"m":64,"x":180,"y":-1.25},{"m":64,"x":181,"y":-1.28},{"m":64,"x":182,"y":-1.3},{"m":64,"x":183,"y":-1.35},{"m":64,"x":184,"y":-1.71},{"m":64,"x":185,"y":-2.61},{"m":64,"x":186,"y":-3.52},{"m":64,"x":187,"y":-1.3},{"m":64,"x":188,"y":-1.5},{"m":64,"x":189,"y":-1.22},{"m":64,"x":190,"y":-1.2},{"m":64,"x":191,"y":-1.22},{"m":64,"x":192,"y":-1.25},{"m":64,"x":193,"y":-1.22},{"m":64,"x":194,"y":-1.25},{"m":64,"x":195,"y":-1.22},{"m":64,"x":196,"y":-1.25},{"m":64,"x":197,"y":-1.22},{"m":64,"x":198,"y":-1.25},{"m":64,"x":199,"y":-1.22},{"m":64,"x":200,"y":-1.25},
{"m":128,"x":1,"y":-1.2},{"m":128,"x":2,"y":-1.25},{"m":128,"x":3,"y":-1.22},{"m":128,"x":4,"y":-1.68},{"m":128,"x":5,"y":-1.3},{"m":128,"x":6,"y":-1.25},{"m":128,"x":7,"y":-1.32},{"m":128,"x":8,"y":-1.3},{"m":128,"x":9,"y":-1.28},{"m":128,"x":10,"y":-1.25},{"m":128,"x":11,"y":-1.3},{"m":128,"x":12,"y":-1.25},{"m":128,"x":13,"y":-1.2},{"m":128,"x":14,"y":-1.22},{"m":128,"x":15,"y":-1.18},{"m":128,"x":16,"y":-1.2},{"m":128,"x":17,"y":-1.15},{"m":128,"x":18,"y":-1.2},{"m":128,"x":19,"y":-1.15},{"m":128,"x":20,"y":-1.12},{"m":128,"x":21,"y":-1.1},{"m":128,"x":22,"y":-1.05},{"m":128,"x":23,"y":-0.84},{"m":128,"x":24,"y":-1.25},{"m":128,"x":25,"y":-1.3},{"m":128,"x":26,"y":-1.32},{"m":128,"x":27,"y":-1.28},{"m":128,"x":28,"y":-1.3},{"m":128,"x":29,"y":-1.25},{"m":128,"x":30,"y":-1.22},{"m":128,"x":31,"y":-1.2},{"m":128,"x":32,"y":-1.22},{"m":128,"x":33,"y":-1.18},{"m":128,"x":34,"y":-1.2},{"m":128,"x":35,"y":-1.22},{"m":128,"x":36,"y":-1.25},{"m":128,"x":37,"y":-1.2},{"m":128,"x":38,"y":-1.22},{"m":128,"x":39,"y":-1.25},{"m":128,"x":40,"y":-1.2},{"m":128,"x":41,"y":-1.22},{"m":128,"x":42,"y":-1.25},{"m":128,"x":43,"y":-1.2},{"m":128,"x":44,"y":-1.3},{"m":128,"x":45,"y":-1.35},{"m":128,"x":46,"y":-1.2},{"m":128,"x":47,"y":-1.5},{"m":128,"x":48,"y":2.79},{"m":128,"x":49,"y":-1.25},{"m":128,"x":50,"y":-2.2},{"m":128,"x":51,"y":-1.2},{"m":128,"x":52,"y":-1.22},{"m":128,"x":53,"y":-1.25},{"m":128,"x":54,"y":-1.2},{"m":128,"x":57,"y":-1.2},{"m":128,"x":58,"y":-1.28},{"m":128,"x":59,"y":-1.22},{"m":128,"x":60,"y":-1.2},{"m":128,"x":61,"y":-1.25},{"m":128,"x":62,"y":-1.22},{"m":128,"x":63,"y":-1.2},{"m":128,"x":64,"y":-1.25},{"m":128,"x":65,"y":-1.22},{"m":128,"x":66,"y":-1.2},{"m":128,"x":67,"y":-1.25},{"m":128,"x":68,"y":-1.22},{"m":128,"x":69,"y":-1.2},{"m":128,"x":70,"y":-1.22},{"m":128,"x":71,"y":-1.25},{"m":128,"x":72,"y":-1.2},{"m":128,"x":73,"y":-1.22},{"m":128,"x":74,"y":-1.25},{"m":128,"x":75,"y":-1.2},{"m":128,"x":76,"y":-1.22},{"m":128,"x":77,"y":-1.25},{"m":128,"x":78,"y":-1.2},{"m":128,"x":79,"y":-1.22},{"m":128,"x":80,"y":-1.25},{"m":128,"x":81,"y":-1.28},{"m":128,"x":82,"y":-1.3},{"m":128,"x":83,"y":-1.32},{"m":128,"x":84,"y":-1.45},{"m":128,"x":85,"y":-1.3},{"m":128,"x":86,"y":-1.25},{"m":128,"x":87,"y":-1.22},{"m":128,"x":88,"y":-1.2},{"m":128,"x":89,"y":-1.18},{"m":128,"x":90,"y":-1.15},{"m":128,"x":91,"y":-1.2},{"m":128,"x":92,"y":-1.22},{"m":128,"x":93,"y":-1.2},{"m":128,"x":94,"y":-1.25},{"m":128,"x":95,"y":-2.51},{"m":128,"x":96,"y":-1.28},{"m":128,"x":97,"y":-1.25},{"m":128,"x":98,"y":-1.3},{"m":128,"x":99,"y":-1.28},{"m":128,"x":100,"y":-1.3},{"m":128,"x":101,"y":-1.25},{"m":128,"x":102,"y":-1.3},{"m":128,"x":103,"y":-1.28},{"m":128,"x":104,"y":-1.25},{"m":128,"x":105,"y":-1.3},{"m":128,"x":106,"y":-1.28},{"m":128,"x":107,"y":-1.35},{"m":128,"x":108,"y":-1.71},{"m":128,"x":109,"y":-1.3},{"m":128,"x":110,"y":-1.2},{"m":128,"x":111,"y":-1.12},{"m":128,"x":112,"y":-1.15},{"m":128,"x":113,"y":-1.2},{"m":128,"x":114,"y":-1.22},{"m":128,"x":115,"y":-1.25},{"m":128,"x":116,"y":-1.22},{"m":128,"x":117,"y":-1.25},{"m":128,"x":118,"y":-1.28},{"m":128,"x":119,"y":-1.25},{"m":128,"x":120,"y":-1.3},{"m":128,"x":121,"y":-1.28},{"m":128,"x":122,"y":-1.3},{"m":128,"x":123,"y":-1.25},{"m":128,"x":124,"y":-1.22},{"m":128,"x":125,"y":-1.2},{"m":128,"x":126,"y":-1.18},{"m":128,"x":127,"y":-1.2},{"m":128,"x":128,"y":-1.18},{"m":128,"x":129,"y":-1.2},{"m":128,"x":130,"y":-1.22},{"m":128,"x":131,"y":-1.2},{"m":128,"x":132,"y":-1.22},{"m":128,"x":133,"y":-1.2},{"m":128,"x":134,"y":-1.22},{"m":128,"x":135,"y":-1.25},{"m":128,"x":136,"y":-1.28},{"m":128,"x":137,"y":-1.3},{"m":128,"x":138,"y":-1.28},{"m":128,"x":139,"y":-1.3},{"m":128,"x":140,"y":-1.32},{"m":128,"x":141,"y":-1.3},{"m":128,"x":142,"y":-1.28},{"m":128,"x":143,"y":-1.3},{"m":128,"x":144,"y":-1.32},{"m":128,"x":145,"y":-1.3},{"m":128,"x":146,"y":-1.28},{"m":128,"x":147,"y":-1.32},{"m":128,"x":148,"y":-1.3},{"m":128,"x":149,"y":-1.28},{"m":128,"x":150,"y":-1.25},{"m":128,"x":151,"y":0.52},{"m":128,"x":152,"y":-1.2},{"m":128,"x":153,"y":-1.25},{"m":128,"x":154,"y":-1.3},{"m":128,"x":155,"y":-2.02},{"m":128,"x":156,"y":-5.83},{"m":128,"x":157,"y":-1.2},{"m":128,"x":158,"y":-0.91},{"m":128,"x":159,"y":-1.15},{"m":128,"x":160,"y":-1.2},{"m":128,"x":161,"y":-1.22},{"m":128,"x":162,"y":-1.2},{"m":128,"x":163,"y":-1.22},{"m":128,"x":164,"y":-1.25},{"m":128,"x":165,"y":-1.22},{"m":128,"x":166,"y":-1.25},{"m":128,"x":167,"y":-1.22},{"m":128,"x":168,"y":-1.25},{"m":128,"x":169,"y":-1.28},{"m":128,"x":170,"y":-1.25},{"m":128,"x":171,"y":-1.28},{"m":128,"x":172,"y":-1.25},{"m":128,"x":173,"y":-1.28},{"m":128,"x":174,"y":-1.3},{"m":128,"x":175,"y":2.13},{"m":128,"x":176,"y":-1.25},{"m":128,"x":177,"y":-1.28},{"m":128,"x":178,"y":-1.25},{"m":128,"x":179,"y":-1.28},{"m":128,"x":180,"y":-1.25},{"m":128,"x":181,"y":-1.28},{"m":128,"x":182,"y":-1.3},{"m":128,"x":183,"y":-1.35},{"m":128,"x":184,"y":-1.6},{"m":128,"x":185,"y":-2.51},{"m":128,"x":186,"y":-3.35},{"m":128,"x":187,"y":-1.3},{"m":128,"x":188,"y":-1.25},{"m":128,"x":189,"y":-1.22},{"m":128,"x":190,"y":-1.2},{"m":128,"x":191,"y":-1.22},{"m":128,"x":192,"y":-1.25},{"m":128,"x":193,"y":-1.22},{"m":128,"x":194,"y":-1.25},{"m":128,"x":195,"y":-1.22},{"m":128,"x":196,"y":-1.25},{"m":128,"x":197,"y":-1.22},{"m":128,"x":198,"y":-1.25},{"m":128,"x":199,"y":-1.22},{"m":128,"x":200,"y":-1.25},
{"m":256,"x":1,"y":-1.2},{"m":256,"x":2,"y":-1.25},{"m":256,"x":3,"y":-1.22},{"m":256,"x":4,"y":-2.02},{"m":256,"x":5,"y":-1.3},{"m":256,"x":6,"y":-1.25},{"m":256,"x":7,"y":-1.22},{"m":256,"x":8,"y":-1.3},{"m":256,"x":9,"y":-1.4},{"m":256,"x":10,"y":-1.81},{"m":256,"x":11,"y":-1.3},{"m":256,"x":12,"y":-1.25},{"m":256,"x":13,"y":-1.2},{"m":256,"x":14,"y":-1.22},{"m":256,"x":15,"y":-1.18},{"m":256,"x":16,"y":-1.2},{"m":256,"x":17,"y":-1.15},{"m":256,"x":18,"y":-1.2},{"m":256,"x":19,"y":-1.15},{"m":256,"x":20,"y":-1.12},{"m":256,"x":21,"y":-1.1},{"m":256,"x":22,"y":-1.05},{"m":256,"x":23,"y":-0.87},{"m":256,"x":24,"y":-1.25},{"m":256,"x":25,"y":-1.3},{"m":256,"x":26,"y":-1.32},{"m":256,"x":27,"y":-1.28},{"m":256,"x":28,"y":-1.3},{"m":256,"x":29,"y":-1.25},{"m":256,"x":30,"y":-1.22},{"m":256,"x":31,"y":-1.2},{"m":256,"x":32,"y":-1.22},{"m":256,"x":33,"y":-1.18},{"m":256,"x":34,"y":-1.2},{"m":256,"x":35,"y":-1.22},{"m":256,"x":36,"y":-1.25},{"m":256,"x":37,"y":-1.2},{"m":256,"x":38,"y":-1.22},{"m":256,"x":39,"y":-1.25},{"m":256,"x":40,"y":-1.2},{"m":256,"x":41,"y":-1.22},{"m":256,"x":42,"y":-1.25},{"m":256,"x":43,"y":-1.2},{"m":256,"x":44,"y":-1.3},{"m":256,"x":45,"y":-1.35},{"m":256,"x":46,"y":-1.2},{"m":256,"x":47,"y":-1.25},{"m":256,"x":48,"y":2.76},{"m":256,"x":49,"y":-1.25},{"m":256,"x":50,"y":-2.23},{"m":256,"x":51,"y":-1.2},{"m":256,"x":52,"y":-1.22},{"m":256,"x":53,"y":-1.25},{"m":256,"x":54,"y":-1.2},{"m":256,"x":57,"y":-1.2},{"m":256,"x":58,"y":-1.28},{"m":256,"x":59,"y":-1.22},{"m":256,"x":60,"y":-1.2},{"m":256,"x":61,"y":-1.25},{"m":256,"x":62,"y":-1.22},{"m":256,"x":63,"y":-1.2},{"m":256,"x":64,"y":-1.25},{"m":256,"x":65,"y":-1.22},{"m":256,"x":66,"y":-1.2},{"m":256,"x":67,"y":-1.25},{"m":256,"x":68,"y":-1.22},{"m":256,"x":69,"y":-1.2},{"m":256,"x":70,"y":-1.22},{"m":256,"x":71,"y":-1.25},{"m":256,"x":72,"y":-1.2},{"m":256,"x":73,"y":-1.22},{"m":256,"x":74,"y":-1.25},{"m":256,"x":75,"y":-1.2},{"m":256,"x":76,"y":-1.22},{"m":256,"x":77,"y":-1.25},{"m":256,"x":78,"y":-1.2},{"m":256,"x":79,"y":-1.22},{"m":256,"x":80,"y":-1.25},{"m":256,"x":81,"y":-1.28},{"m":256,"x":82,"y":-1.3},{"m":256,"x":83,"y":-1.32},{"m":256,"x":84,"y":-1.35},{"m":256,"x":85,"y":-1.3},{"m":256,"x":86,"y":-1.25},{"m":256,"x":87,"y":-1.22},{"m":256,"x":88,"y":-1.2},{"m":256,"x":89,"y":-1.18},{"m":256,"x":90,"y":-1.15},{"m":256,"x":91,"y":-3.52},{"m":256,"x":92,"y":-1.22},{"m":256,"x":93,"y":-1.2},{"m":256,"x":94,"y":-1.25},{"m":256,"x":95,"y":-2.58},{"m":256,"x":96,"y":-1.28},{"m":256,"x":97,"y":-1.25},{"m":256,"x":98,"y":-1.3},{"m":256,"x":99,"y":-1.28},{"m":256,"x":100,"y":-1.3},{"m":256,"x":101,"y":-1.25},{"m":256,"x":102,"y":-1.3},{"m":256,"x":103,"y":-1.28},{"m":256,"x":104,"y":-1.25},{"m":256,"x":105,"y":-1.3},{"m":256,"x":106,"y":-1.28},{"m":256,"x":107,"y":-1.35},{"m":256,"x":108,"y":-1.81},{"m":256,"x":109,"y":-1.3},{"m":256,"x":110,"y":-1.2},{"m":256,"x":111,"y":-1.12},{"m":256,"x":112,"y":-1.15},{"m":256,"x":113,"y":-1.2},{"m":256,"x":114,"y":-1.22},{"m":256,"x":115,"y":-1.25},{"m":256,"x":116,"y":-1.22},{"m":256,"x":117,"y":-1.25},{"m":256,"x":118,"y":-1.28},{"m":256,"x":119,"y":-1.25},{"m":256,"x":120,"y":-1.3},{"m":256,"x":121,"y":-1.28},{"m":256,"x":122,"y":-1.3},{"m":256,"x":123,"y":-1.25},{"m":256,"x":124,"y":-1.22},{"m":256,"x":125,"y":-1.2},{"m":256,"x":126,"y":-1.18},{"m":256,"x":127,"y":-1.2},{"m":256,"x":128,"y":-1.18},{"m":256,"x":129,"y":-1.2},{"m":256,"x":130,"y":-1.22},{"m":256,"x":131,"y":-1.2},{"m":256,"x":132,"y":-1.22},{"m":256,"x":133,"y":-1.2},{"m":256,"x":134,"y":-1.22},{"m":256,"x":135,"y":-1.25},{"m":256,"x":136,"y":-1.28},{"m":256,"x":137,"y":-1.3},{"m":256,"x":138,"y":-1.28},{"m":256,"x":139,"y":-1.3},{"m":256,"x":140,"y":-1.32},{"m":256,"x":141,"y":-1.3},{"m":256,"x":142,"y":-1.28},{"m":256,"x":143,"y":-1.3},{"m":256,"x":144,"y":-1.32},{"m":256,"x":145,"y":-1.3},{"m":256,"x":146,"y":-1.28},{"m":256,"x":147,"y":-1.32},{"m":256,"x":148,"y":-1.3},{"m":256,"x":149,"y":-1.28},{"m":256,"x":150,"y":-1.25},{"m":256,"x":151,"y":0.07},{"m":256,"x":152,"y":-1.2},{"m":256,"x":153,"y":-1.25},{"m":256,"x":154,"y":-1.3},{"m":256,"x":155,"y":-2.23},{"m":256,"x":156,"y":-1.25},{"m":256,"x":157,"y":-1.1},{"m":256,"x":158,"y":-0.84},{"m":256,"x":159,"y":-1.15},{"m":256,"x":160,"y":-1.2},{"m":256,"x":161,"y":-1.22},{"m":256,"x":162,"y":-1.2},{"m":256,"x":163,"y":-1.22},{"m":256,"x":164,"y":-1.25},{"m":256,"x":165,"y":-1.22},{"m":256,"x":166,"y":-1.25},{"m":256,"x":167,"y":-1.22},{"m":256,"x":168,"y":-1.25},{"m":256,"x":169,"y":-1.28},{"m":256,"x":170,"y":-1.25},{"m":256,"x":171,"y":-1.28},{"m":256,"x":172,"y":-1.25},{"m":256,"x":173,"y":-1.28},{"m":256,"x":174,"y":-1.3},{"m":256,"x":175,"y":1.75},{"m":256,"x":176,"y":-1.25},{"m":256,"x":177,"y":-1.28},{"m":256,"x":178,"y":-1.25},{"m":256,"x":179,"y":-1.28},{"m":256,"x":180,"y":-1.25},{"m":256,"x":181,"y":-1.28},{"m":256,"x":182,"y":-1.3},{"m":256,"x":183,"y":-1.35},{"m":256,"x":184,"y":-1.78},{"m":256,"x":185,"y":-2.62},{"m":256,"x":186,"y":-3.56},{"m":256,"x":187,"y":-1.3},{"m":256,"x":188,"y":-1.25},{"m":256,"x":189,"y":-1.22},{"m":256,"x":190,"y":-1.2},{"m":256,"x":191,"y":-1.22},{"m":256,"x":192,"y":-1.25},{"m":256,"x":193,"y":-1.22},{"m":256,"x":194,"y":-1.25},{"m":256,"x":195,"y":-1.22},{"m":256,"x":196,"y":-1.25},{"m":256,"x":197,"y":-1.22},{"m":256,"x":198,"y":-1.25},{"m":256,"x":199,"y":-1.22},{"m":256,"x":200,"y":-1.25},
{"m":512,"x":1,"y":-1.2},{"m":512,"x":2,"y":-1.25},{"m":512,"x":3,"y":-1.22},{"m":512,"x":4,"y":-2.3},{"m":512,"x":5,"y":-1.3},{"m":512,"x":6,"y":-1.25},{"m":512,"x":7,"y":-1.22},{"m":512,"x":8,"y":-1.6},{"m":512,"x":9,"y":-1.45},{"m":512,"x":10,"y":-1.81},{"m":512,"x":11,"y":-1.3},{"m":512,"x":12,"y":-1.25},{"m":512,"x":13,"y":-1.2},{"m":512,"x":14,"y":-1.22},{"m":512,"x":15,"y":-1.18},{"m":512,"x":16,"y":-1.2},{"m":512,"x":17,"y":-1.15},{"m":512,"x":18,"y":-1.2},{"m":512,"x":19,"y":-1.15},{"m":512,"x":20,"y":-1.12},{"m":512,"x":21,"y":-1.1},{"m":512,"x":22,"y":-1.05},{"m":512,"x":23,"y":-0.87},{"m":512,"x":24,"y":-1.25},{"m":512,"x":25,"y":-1.3},{"m":512,"x":26,"y":-1.32},{"m":512,"x":27,"y":-1.28},{"m":512,"x":28,"y":-1.3},{"m":512,"x":29,"y":-1.25},{"m":512,"x":30,"y":-1.22},{"m":512,"x":31,"y":-1.2},{"m":512,"x":32,"y":-1.22},{"m":512,"x":33,"y":-1.18},{"m":512,"x":34,"y":-1.2},{"m":512,"x":35,"y":-1.22},{"m":512,"x":36,"y":-1.25},{"m":512,"x":37,"y":-1.2},{"m":512,"x":38,"y":-1.22},{"m":512,"x":39,"y":-1.25},{"m":512,"x":40,"y":-1.2},{"m":512,"x":41,"y":-1.22},{"m":512,"x":42,"y":-1.25},{"m":512,"x":43,"y":-1.2},{"m":512,"x":44,"y":-1.3},{"m":512,"x":45,"y":-1.35},{"m":512,"x":46,"y":-1.2},{"m":512,"x":47,"y":-1.25},{"m":512,"x":48,"y":2.34},{"m":512,"x":49,"y":-1.25},{"m":512,"x":50,"y":-2.55},{"m":512,"x":51,"y":-1.2},{"m":512,"x":52,"y":-1.22},{"m":512,"x":53,"y":-1.25},{"m":512,"x":54,"y":-1.2},{"m":512,"x":55,"y":-1.25},{"m":512,"x":56,"y":-1.22},{"m":512,"x":57,"y":-1.2},{"m":512,"x":58,"y":-1.28},{"m":512,"x":59,"y":-1.22},{"m":512,"x":60,"y":-1.2},{"m":512,"x":61,"y":-1.25},{"m":512,"x":62,"y":-1.22},{"m":512,"x":63,"y":-1.2},{"m":512,"x":64,"y":-1.25},{"m":512,"x":65,"y":-1.22},{"m":512,"x":66,"y":-1.2},{"m":512,"x":67,"y":-1.25},{"m":512,"x":68,"y":-1.22},{"m":512,"x":69,"y":-1.2},{"m":512,"x":70,"y":-1.22},{"m":512,"x":71,"y":-1.25},{"m":512,"x":72,"y":-1.2},{"m":512,"x":73,"y":-1.22},{"m":512,"x":74,"y":-1.25},{"m":512,"x":75,"y":-1.2},{"m":512,"x":76,"y":-1.22},{"m":512,"x":77,"y":-1.25},{"m":512,"x":78,"y":-1.2},{"m":512,"x":79,"y":-1.22},{"m":512,"x":80,"y":-1.25},{"m":512,"x":81,"y":-1.28},{"m":512,"x":82,"y":-1.3},{"m":512,"x":83,"y":-1.32},{"m":512,"x":84,"y":-1.35},{"m":512,"x":85,"y":-1.3},{"m":512,"x":86,"y":-1.25},{"m":512,"x":87,"y":-1.22},{"m":512,"x":88,"y":-1.2},{"m":512,"x":89,"y":-1.18},{"m":512,"x":90,"y":-1.15},{"m":512,"x":91,"y":-1.88},{"m":512,"x":92,"y":-1.22},{"m":512,"x":93,"y":-1.2},{"m":512,"x":94,"y":-1.25},{"m":512,"x":95,"y":-2.23},{"m":512,"x":96,"y":-1.28},{"m":512,"x":97,"y":-1.25},{"m":512,"x":98,"y":-1.3},{"m":512,"x":99,"y":-1.28},{"m":512,"x":100,"y":-1.3},{"m":512,"x":101,"y":-1.25},{"m":512,"x":102,"y":-1.3},{"m":512,"x":103,"y":-1.28},{"m":512,"x":104,"y":-1.25},{"m":512,"x":105,"y":-1.3},{"m":512,"x":106,"y":-1.28},{"m":512,"x":107,"y":-1.35},{"m":512,"x":108,"y":-1.3},{"m":512,"x":109,"y":-1.3},{"m":512,"x":110,"y":-1.2},{"m":512,"x":111,"y":1.05},{"m":512,"x":112,"y":-1.15},{"m":512,"x":113,"y":-1.2},{"m":512,"x":114,"y":-1.22},{"m":512,"x":115,"y":-1.25},{"m":512,"x":116,"y":-1.22},{"m":512,"x":117,"y":-1.25},{"m":512,"x":118,"y":-1.28},{"m":512,"x":119,"y":-1.25},{"m":512,"x":120,"y":-1.3},{"m":512,"x":121,"y":-1.28},{"m":512,"x":122,"y":-1.3},{"m":512,"x":123,"y":-1.25},{"m":512,"x":124,"y":-1.22},{"m":512,"x":125,"y":-1.2},{"m":512,"x":126,"y":-1.18},{"m":512,"x":127,"y":-1.2},{"m":512,"x":128,"y":-1.18},{"m":512,"x":129,"y":-1.2},{"m":512,"x":130,"y":-1.22},{"m":512,"x":131,"y":-1.2},{"m":512,"x":132,"y":-1.22},{"m":512,"x":133,"y":-1.2},{"m":512,"x":134,"y":-1.22},{"m":512,"x":135,"y":-1.25},{"m":512,"x":136,"y":-1.28},{"m":512,"x":137,"y":-1.3},{"m":512,"x":138,"y":-1.28},{"m":512,"x":139,"y":-1.3},{"m":512,"x":140,"y":-1.32},{"m":512,"x":141,"y":-1.3},{"m":512,"x":142,"y":-1.28},{"m":512,"x":143,"y":-1.3},{"m":512,"x":144,"y":-1.32},{"m":512,"x":145,"y":-1.3},{"m":512,"x":146,"y":-1.28},{"m":512,"x":147,"y":-1.32},{"m":512,"x":148,"y":-1.3},{"m":512,"x":149,"y":-1.28},{"m":512,"x":150,"y":-1.25},{"m":512,"x":151,"y":0.07},{"m":512,"x":152,"y":-1.2},{"m":512,"x":153,"y":-1.25},{"m":512,"x":154,"y":-1.3},{"m":512,"x":155,"y":-2.16},{"m":512,"x":156,"y":-1.25},{"m":512,"x":157,"y":-1.1},{"m":512,"x":158,"y":-0.87},{"m":512,"x":159,"y":-1.15},{"m":512,"x":160,"y":-1.2},{"m":512,"x":161,"y":-1.22},{"m":512,"x":162,"y":-1.2},{"m":512,"x":163,"y":-1.22},{"m":512,"x":164,"y":-1.25},{"m":512,"x":165,"y":-1.22},{"m":512,"x":166,"y":-1.25},{"m":512,"x":167,"y":-1.22},{"m":512,"x":168,"y":-1.25},{"m":512,"x":169,"y":-1.28},{"m":512,"x":170,"y":-1.25},{"m":512,"x":171,"y":-1.28},{"m":512,"x":172,"y":-1.25},{"m":512,"x":173,"y":-1.28},{"m":512,"x":174,"y":-1.3},{"m":512,"x":175,"y":1.71},{"m":512,"x":176,"y":-1.25},{"m":512,"x":177,"y":-1.28},{"m":512,"x":178,"y":-1.25},{"m":512,"x":179,"y":-1.28},{"m":512,"x":180,"y":-1.25},{"m":512,"x":181,"y":-1.28},{"m":512,"x":182,"y":-1.3},{"m":512,"x":183,"y":-1.35},{"m":512,"x":184,"y":-1.68},{"m":512,"x":185,"y":-2.55},{"m":512,"x":186,"y":-3.45},{"m":512,"x":187,"y":-1.3},{"m":512,"x":188,"y":-1.25},{"m":512,"x":189,"y":-1.22},{"m":512,"x":190,"y":-1.2},{"m":512,"x":191,"y":-1.22},{"m":512,"x":192,"y":-1.25},{"m":512,"x":193,"y":-1.22},{"m":512,"x":194,"y":-1.25},{"m":512,"x":195,"y":-1.22},{"m":512,"x":196,"y":-1.25},{"m":512,"x":197,"y":-1.22},{"m":512,"x":198,"y":-1.25},{"m":512,"x":199,"y":-1.22},{"m":512,"x":200,"y":-1.25}
]},
"data": {"name": "pts"},
"transform": [{"lookup": "m", "from": {"data": {"name": "panels"}, "key": "m", "fields": ["t"]}}],
"facet": {
  "field": "t", "type": "nominal",
  "sort": ["m = 2", "m = 4", "m = 8", "m = 16", "m = 32", "m = 64", "m = 128", "m = 256", "m = 512"],
  "header": {"title": null, "labelFont": "DejaVu Serif", "labelFontSize": 23, "labelColor": "black", "labelPadding": 37}
},
"columns": 3,
"spacing": {"row": 73, "column": 87},
"spec": {
  "width": 276,
  "height": 124,
  "mark": {"type": "point", "shape": "M-1,0L1,0M0,-1L0,1", "size": 25, "filled": false, "color": "#ff0000", "strokeWidth": 1, "opacity": 1},
  "encoding": {
    "x": {"field": "x", "type": "quantitative", "scale": {"domain": [0, 200], "nice": false, "zero": false},
      "axis": {"values": [0, 200], "ticks": false, "domain": false, "grid": false, "labelFont": "DejaVu Serif", "labelFontSize": 23, "labelColor": "black", "labelPadding": 25, "labelFlush": false, "labelOverlap": false, "title": "#algorithm", "titleFont": "DejaVu Serif", "titleFontSize": 23, "titleFontWeight": "normal", "titleColor": "black", "titlePadding": 27}},
    "y": {"field": "y", "type": "quantitative", "scale": {"domain": [-8, 5], "nice": false, "zero": false},
      "axis": {"values": [-8, -6, -4, -2, 0, 2, 4], "tickSize": -9, "tickColor": "black", "tickWidth": 1, "domain": false,
        "grid": true, "gridColor": "black", "gridWidth": 1, "gridDash": [1.5, 2.5],
        "gridOpacity": {"condition": {"test": "datum.value === 0", "value": 1}, "value": 0},
        "labelFont": "DejaVu Serif", "labelFontSize": 12, "labelColor": "black", "labelPadding": 30, "labelOverlap": false, "labelExpr": "datum.value + ''", "title": "Δ (ms)", "titleFont": "DejaVu Serif", "titleFontSize": 23, "titleFontWeight": "normal", "titleColor": "black", "titlePadding": 40}}
  }
},
"config": {"view": {"stroke": "black", "strokeWidth": 1.2}}
}
